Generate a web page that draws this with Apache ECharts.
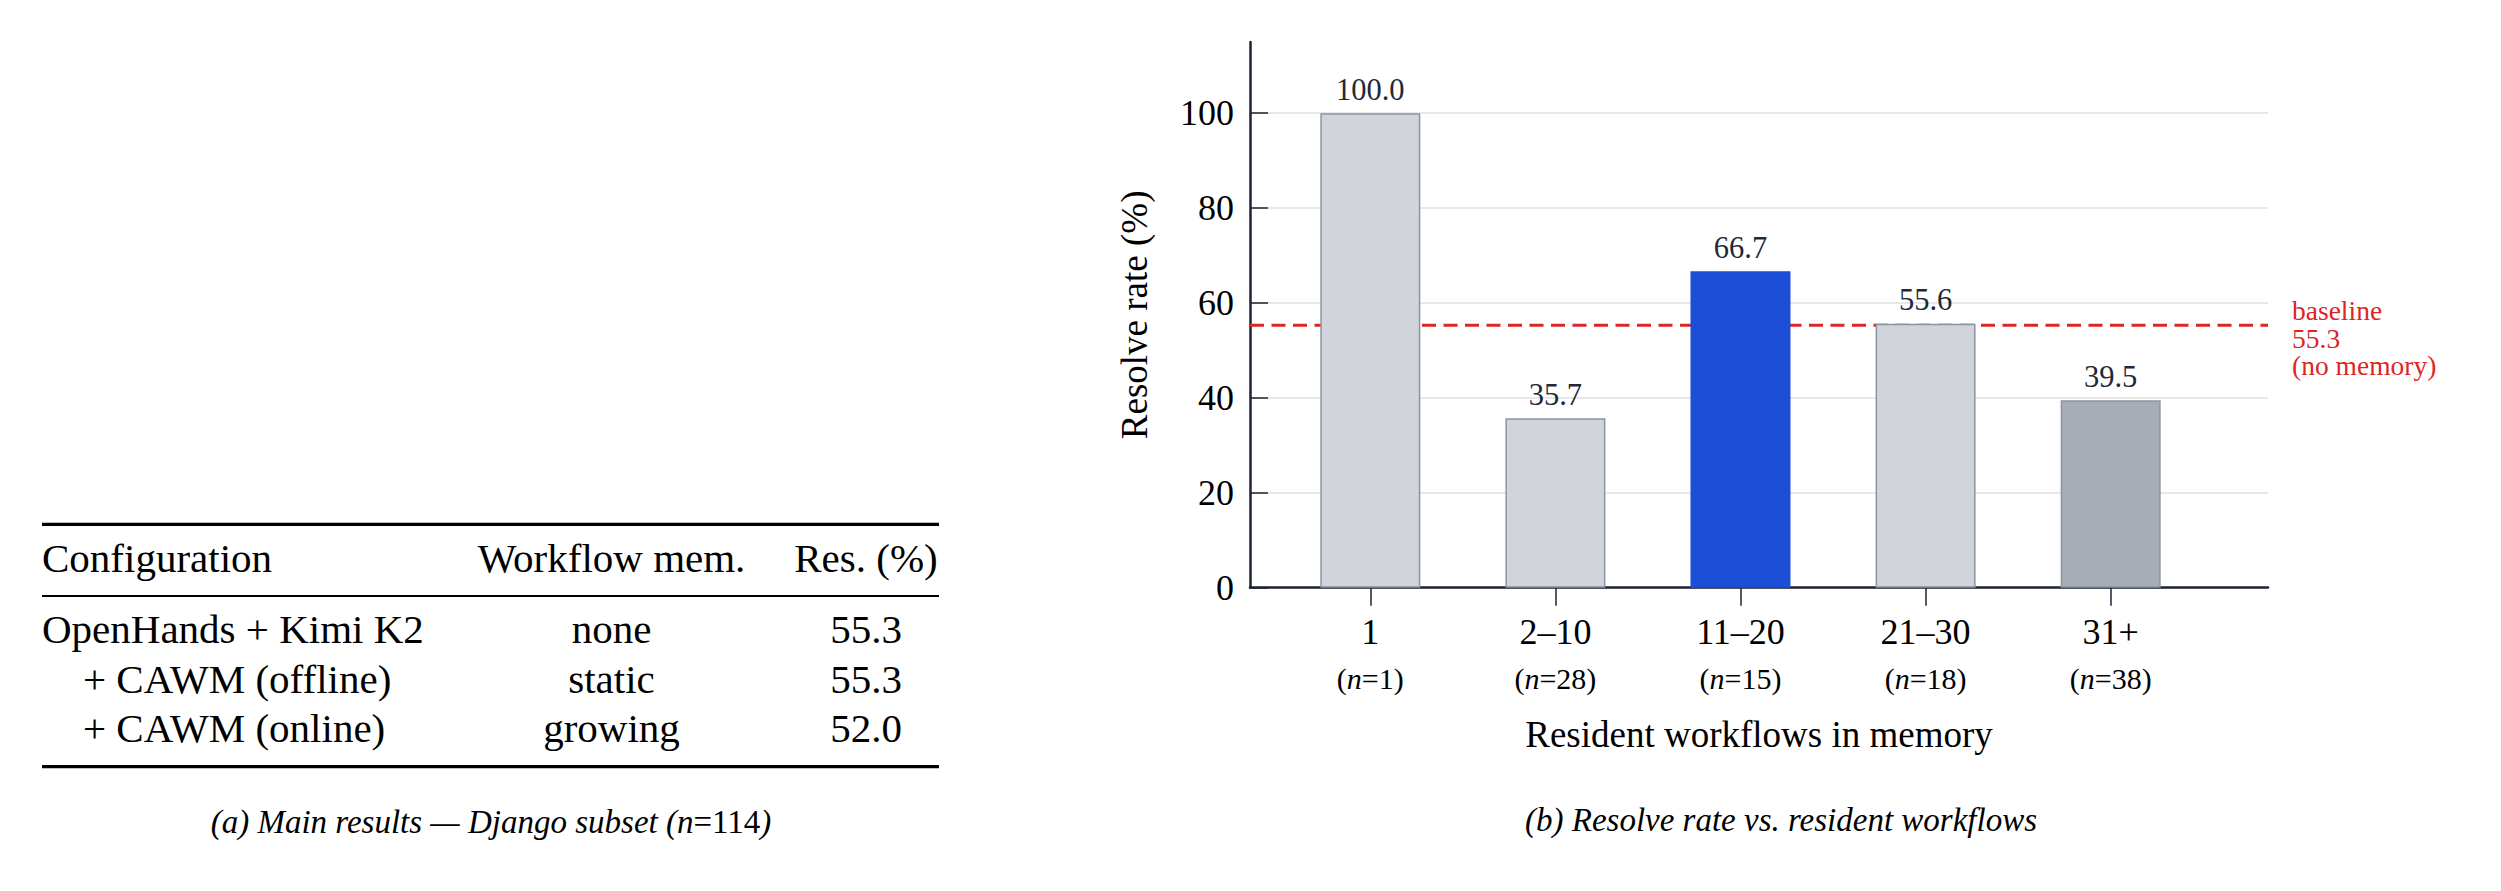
<!DOCTYPE html>
<html><head><meta charset="utf-8">
<script src="https://cdn.jsdelivr.net/npm/echarts@6/dist/echarts.min.js"></script>
<style>html,body{margin:0;padding:0;background:#fff}#c{width:2501px;height:891px}</style>
</head><body><div id="c"></div>
<script>
// ---- data ----
const categories = ['1', '2–10', '11–20', '21–30', '31+'];
const groupSizes = [1, 28, 15, 18, 38];
const resolveRates = [100.0, 35.7, 66.7, 55.6, 39.5];
const baselineRate = 55.3;
const yTicks = [0, 20, 40, 60, 80, 100];
const tableHeaders = ['Configuration', 'Workflow mem.', 'Res. (%)'];
const tableConfigs = ['OpenHands + Kimi K2', '+ CAWM (offline)', '+ CAWM (online)'];
const tableMemory = ['none', 'static', 'growing'];
const tableRes = [55.3, 55.3, 52.0];
const subsetSize = 114;

// ---- styles ----
const SERIF = "'Liberation Serif','Times New Roman',Times,serif";
const AX = '#1c2333';
const barFill = ['#d1d5db', '#d1d5db', '#1d4ed8', '#d1d5db', '#a7adb7'];
const barEdge = ['#8d94a1', '#8d94a1', '#1d4ed8', '#8d94a1', '#8d94a1'];
const xMin = -0.65, xMax = 4.85;

const chart = echarts.init(document.getElementById('c'), null, {renderer: 'svg'});

// table graphics
const g = [];
const tX0 = 42, tX1 = 939, col2 = 611.5, col3 = 866;
g.push({type: 'rect', shape: {x: tX0, y: 522.7, width: tX1 - tX0, height: 3.2}, style: {fill: '#000'}});
g.push({type: 'rect', shape: {x: tX0, y: 595, width: tX1 - tX0, height: 2}, style: {fill: '#000'}});
g.push({type: 'rect', shape: {x: tX0, y: 765.1, width: tX1 - tX0, height: 3.2}, style: {fill: '#000'}});
function txt(x, y, text, align, extra) {
  return Object.assign({type: 'text', x: x, y: y, style: Object.assign({
    text: text, fontSize: 41, fontFamily: SERIF, fill: '#000', align: align, verticalAlign: 'middle'}, extra || {})});
}
const headY = 558, rowY = [629, 679, 728];
g.push(txt(tX0, headY, tableHeaders[0], 'left'));
g.push(txt(col2, headY, tableHeaders[1], 'center'));
g.push(txt(col3, headY, tableHeaders[2], 'center'));
tableConfigs.forEach(function (name, i) {
  const indent = name.charAt(0) === '+' ? 41 : 0;
  g.push(txt(tX0 + indent, rowY[i], name, 'left'));
  g.push(txt(col2, rowY[i], tableMemory[i], 'center'));
  g.push(txt(col3, rowY[i], tableRes[i].toFixed(1), 'center'));
});
// captions
g.push({type: 'text', x: 491, y: 822, style: {
  text: '{i|(a) Main results — Django subset (n}{u|=' + subsetSize + '}{i|)}',
  align: 'center', verticalAlign: 'middle',
  rich: {
    i: {fontSize: 33, fontFamily: SERIF, fontStyle: 'italic', fill: '#000', color: '#000'},
    u: {fontSize: 33, fontFamily: SERIF, fill: '#000', color: '#000'}
  }}});
g.push({type: 'text', x: 1781, y: 820, style: {
  text: '(b) Resolve rate vs. resident workflows', fontSize: 33, fontFamily: SERIF,
  fontStyle: 'italic', fill: '#000', align: 'center', verticalAlign: 'middle'}});

const option = {
  animation: false,
  backgroundColor: '#fff',
  textStyle: {fontFamily: SERIF},
  grid: {left: 1250, right: 2501 - 2268, top: 42, bottom: 891 - 587.7, containLabel: false},
  xAxis: {
    type: 'value', min: xMin, max: xMax,
    name: 'Resident workflows in memory', nameLocation: 'middle', nameGap: 128,
    nameTextStyle: {fontSize: 37, color: '#000', fontFamily: SERIF},
    axisLine: {show: true, onZero: false, lineStyle: {color: AX, width: 2.5}},
    axisTick: {show: true, inside: false, length: 18, lineStyle: {color: AX, width: 1.5},
      customValues: [0, 1, 2, 3, 4]},
    splitLine: {show: false},
    axisLabel: {
      customValues: [0, 1, 2, 3, 4], margin: 21,
      formatter: function (v) {
        const i = Math.round(v);
        return '{c|' + categories[i] + '}\n{p|(}{i|n}{p|=' + groupSizes[i] + ')}';
      },
      rich: {
        c: {fontSize: 36, lineHeight: 46, color: '#000', fontFamily: SERIF},
        p: {fontSize: 30, lineHeight: 48, color: '#000', fontFamily: SERIF},
        i: {fontSize: 30, lineHeight: 48, color: '#000', fontFamily: SERIF, fontStyle: 'italic'}
      }
    }
  },
  yAxis: {
    type: 'value', min: 0, max: 115, interval: 20,
    name: 'Resolve rate (%)', nameLocation: 'middle', nameGap: 97,
    nameTextStyle: {fontSize: 37, color: '#000', fontFamily: SERIF},
    axisLine: {show: true, onZero: false, lineStyle: {color: AX, width: 2.5}},
    axisTick: {show: true, inside: true, length: 18, lineStyle: {color: AX, width: 1.5},
      customValues: yTicks},
    axisLabel: {customValues: yTicks, fontSize: 36, color: '#000', margin: 16, fontFamily: SERIF},
    splitLine: {show: true, lineStyle: {color: '#e0e0e0', width: 1.5}}
  },
  series: [
    {
      type: 'line', z: 1,
      data: [[xMin, baselineRate], [xMax, baselineRate]],
      symbol: 'none',
      lineStyle: {color: '#dc2626', width: 3, type: [14, 7.5]},
      endLabel: {
        show: true, distance: 24, offset: [0, 13],
        formatter: function () { return 'baseline\n' + baselineRate.toFixed(1) + '\n(no memory)'; },
        color: '#dc2626', fontSize: 27.5, lineHeight: 27.5, fontFamily: SERIF, align: 'left'
      },
      silent: true
    },
    {
      type: 'bar', z: 2, barWidth: 100,
      data: resolveRates.map(function (v, i) {
        return {value: [i, v], itemStyle: {color: barFill[i], borderColor: barEdge[i], borderWidth: 1.5}};
      }),
      label: {
        show: true, position: 'top', distance: 8, fontSize: 30.5, color: '#1f2937', fontFamily: SERIF,
        formatter: function (p) { return p.value[1].toFixed(1); }
      }
    }
  ],
  graphic: g
};
chart.setOption(option);
</script>
</body></html>
